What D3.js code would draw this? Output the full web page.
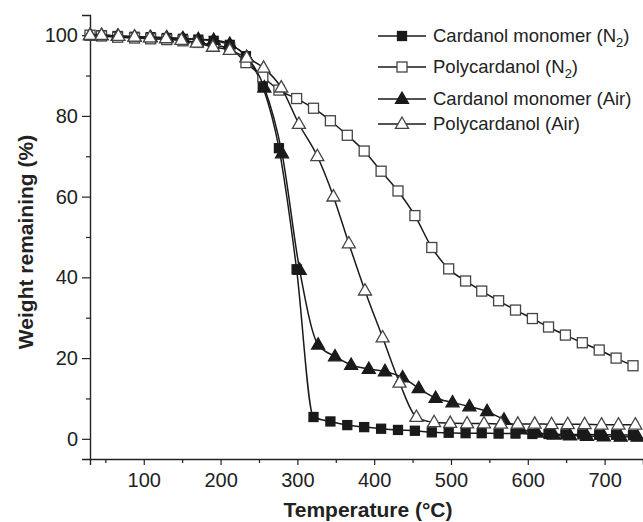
<!DOCTYPE html>
<html><head><meta charset="utf-8">
<script src="https://cdn.jsdelivr.net/npm/d3@7"></script>
<style>body{margin:0;background:#fff}svg{display:block}text{font-family:"Liberation Sans",Arial,sans-serif;fill:#222}</style>
</head><body><svg id="c" width="643" height="522"></svg>
<script>
const tempsMonoN2 = [30,45,66,88,109,130,151,171,191,212,233,255,276,299,321,343,365,387,409,431,453,475,497,519,540,562,584,606,627,649,671,693,715,737];
const monoN2 = [100,100,99.8,99.6,99.5,99.3,99.1,98.9,98.6,97.6,94.8,87.2,72,42,5.4,4.3,3.4,2.9,2.5,2.2,2.0,1.6,1.5,1.4,1.4,1.3,1.3,1.2,1.2,1.1,1.1,1.0,1.0,0.9];
const tempsPolyN2 = [30,45,66,88,109,130,151,171,191,212,233,255,276,299,321,343,365,387,409,431,453,475,497,519,540,562,584,606,627,649,671,693,715,737];
const polyN2 = [100,99.8,99.5,99.3,99.1,98.9,98.6,98.2,97.5,96.8,93.2,89.7,86.4,84.3,81.9,78.8,75.2,71.3,66.3,61.4,55.3,47.4,42.1,39.1,36.6,34.2,31.9,29.8,27.7,25.7,23.8,22.0,20.0,18.1];
const tempsMonoAir = [30,45,66,88,109,130,151,171,191,212,234,257,280,303,327,349,370,393,414,437,458,480,502,524,547,569,590,612,634,655,677,699,721,743];
const monoAir = [100,100,99.8,99.6,99.5,99.4,99.2,99,98.8,97.8,94.6,87,70.7,41.8,23.3,20.4,18.3,17.3,16.7,15.2,12.5,10.1,9.0,8.0,6.8,4.7,2.5,1.5,1.0,0.8,0.7,0.6,0.5,0.5];
const tempsPolyAir = [30,45,67,88,108,129,149,169,190,212,234,256,279,302,326,347,367,388,411,433,455,478,499,521,543,565,587,609,631,652,674,696,718,740];
const polyAir = [100,100,99.8,99.6,99.4,99.2,98.8,98.1,97.1,96.3,94.4,91.9,87,78,70,60,48.4,36.7,25.1,13.9,5.4,4.1,3.9,3.8,3.8,3.7,3.7,3.7,3.6,3.6,3.6,3.5,3.5,3.5];
const seriesNames = ["Cardanol monomer (N2)","Polycardanol (N2)","Cardanol monomer (Air)","Polycardanol (Air)"];
const xTicks = [100,200,300,400,500,600,700];
const yTicks = [0,20,40,60,80,100];

const series = [
  {name:seriesNames[0], t:tempsMonoN2, v:monoN2, shape:"square", fill:true},
  {name:seriesNames[1], t:tempsPolyN2, v:polyN2, shape:"square", fill:false},
  {name:seriesNames[2], t:tempsMonoAir, v:monoAir, shape:"triangle", fill:true},
  {name:seriesNames[3], t:tempsPolyAir, v:polyAir, shape:"triangle", fill:false}
];

const svg = d3.select("#c");
const x = d3.scaleLinear().domain([30,750]).range([90,643]);
const y = d3.scaleLinear().domain([-5,105]).range([459,15]);

// axes
const xMinor = d3.range(50,751,100);
const yMinor = d3.range(10,100,20);
const gx = svg.append("g").attr("transform","translate(0,459)");
gx.call(d3.axisBottom(x).tickValues(xTicks).tickSize(6).tickPadding(8).tickFormat(d3.format("d")));
gx.append("g").call(d3.axisBottom(x).tickValues(xMinor).tickSize(4).tickFormat(""));
const gy = svg.append("g").attr("transform","translate(90,0)");
gy.call(d3.axisLeft(y).tickValues(yTicks).tickSize(8).tickPadding(4).tickFormat(d3.format("d")));
gy.append("g").call(d3.axisLeft(y).tickValues(yMinor).tickSize(4).tickFormat(""));
gx.selectAll("g > g > .domain").remove();
gy.selectAll("g > g > .domain").remove();
svg.selectAll(".domain").attr("stroke","#222").attr("stroke-width",1.4);
svg.selectAll(".tick line").attr("stroke","#222").attr("stroke-width",1.2);
svg.selectAll(".tick text").attr("font-size",20).attr("fill","#222").style("font-family",'"Liberation Sans",Arial,sans-serif');

svg.append("text").attr("x",368).attr("y",517).attr("text-anchor","middle")
  .attr("font-size",21).attr("font-weight","bold").text("Temperature (°C)");
svg.append("text").attr("transform","translate(33,242) rotate(-90)").attr("text-anchor","middle")
  .attr("font-size",21).attr("font-weight","bold").text("Weight remaining (%)");

const line = d3.line().x(d=>x(d[0])).y(d=>y(d[1])).curve(d3.curveMonotoneX);
function marker(g, s, cx, cy){
  if(s.shape==="square"){
    const a = s.fill?9:10;
    g.append("rect").attr("x",cx-a/2).attr("y",cy-a/2).attr("width",a).attr("height",a)
      .attr("fill",s.fill?"#1a1a1a":"#fff").attr("stroke",s.fill?"#1a1a1a":"#444").attr("stroke-width",1.3);
  } else {
    const r = 7;
    const pts = [[cx,cy-r],[cx+r*0.93,cy+r*0.62],[cx-r*0.93,cy+r*0.62]];
    g.append("path").attr("d","M"+pts.map(p=>p.join(",")).join("L")+"Z")
      .attr("fill",s.fill?"#1a1a1a":"#fff").attr("stroke",s.fill?"#1a1a1a":"#444").attr("stroke-width",1.3);
  }
}
series.forEach(s=>{
  const data = s.t.map((t,i)=>[t,s.v[i]]);
  const g = svg.append("g");
  g.append("path").datum(data).attr("d",line).attr("fill","none").attr("stroke","#1a1a1a").attr("stroke-width",1.5);
  data.forEach(d=>marker(g,s,x(d[0]),y(d[1])));
});

// legend
const legY = [36,67,99,124];
series.forEach((s,i)=>{
  const g = svg.append("g");
  g.append("line").attr("x1",378).attr("x2",426).attr("y1",legY[i]).attr("y2",legY[i]).attr("stroke","#1a1a1a").attr("stroke-width",1.5);
  marker(g,s,402,legY[i]);
  const t = g.append("text").attr("x",433).attr("y",legY[i]+6).attr("font-size",18.5);
  const m = s.name.match(/^(.*)N2\)$/);
  if(m){
    t.append("tspan").text(m[1]+"N");
    t.append("tspan").attr("dy",5).attr("font-size",13).text("2");
    t.append("tspan").attr("dy",-5).text(")");
  } else t.text(s.name);
});
</script></body></html>
